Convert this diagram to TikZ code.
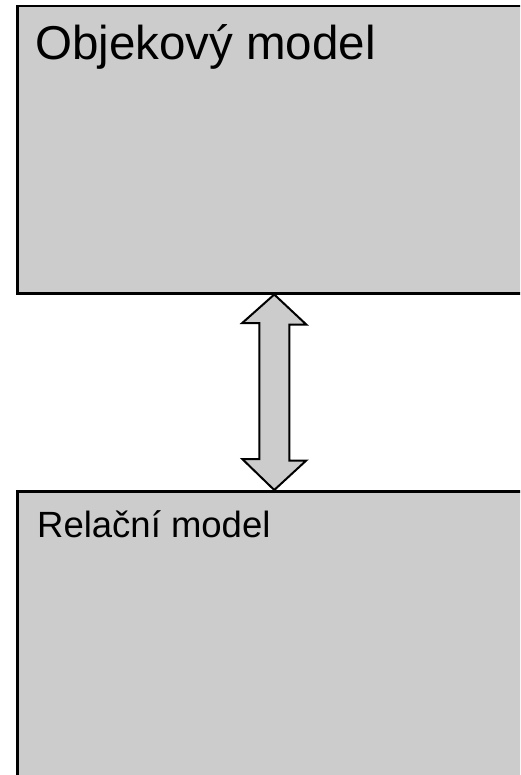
\documentclass[tikz,border=0pt]{standalone}
\usepackage{fontspec}
\setmainfont{Liberation Sans}
\usepackage{tikz}
\usetikzlibrary{positioning}

\begin{document}
\begin{tikzpicture}[
            x=1pt, y=-1pt,
            modelbox/.style={rectangle, draw=black, line width=2.5pt, fill=black!20, anchor=north west, minimum width=514pt},
            boxlabel/.style={anchor=base west, inner sep=0pt, text=black},
            link/.style={draw=black, line width=2pt, fill=black!20, line join=miter}
        ]
            \useasboundingbox (0,0) rectangle (520,775);
            \clip (0,0) rectangle (520,775);

            \node[modelbox, minimum height=287pt] (obj) at (16,5) {};
            \node[modelbox, minimum height=300pt] (rel) at (16,490) {};

            \node[boxlabel, font=\fontsize{47.5}{56}\selectfont] (objlabel) at (35,60) {Objekový model};
            \node[boxlabel, font=\fontsize{36.5}{43}\selectfont] (rellabel) at (37,537) {Relační model};

            \draw[link] (obj.south) -- ++(32,30) -- ++(-17,0) -- ++(0,136) -- ++(17,0)
                -- (rel.north) -- ++(-32,-31) -- ++(17,0) -- ++(0,-136) -- ++(-17,0) -- cycle;
        \end{tikzpicture}
\end{document}
